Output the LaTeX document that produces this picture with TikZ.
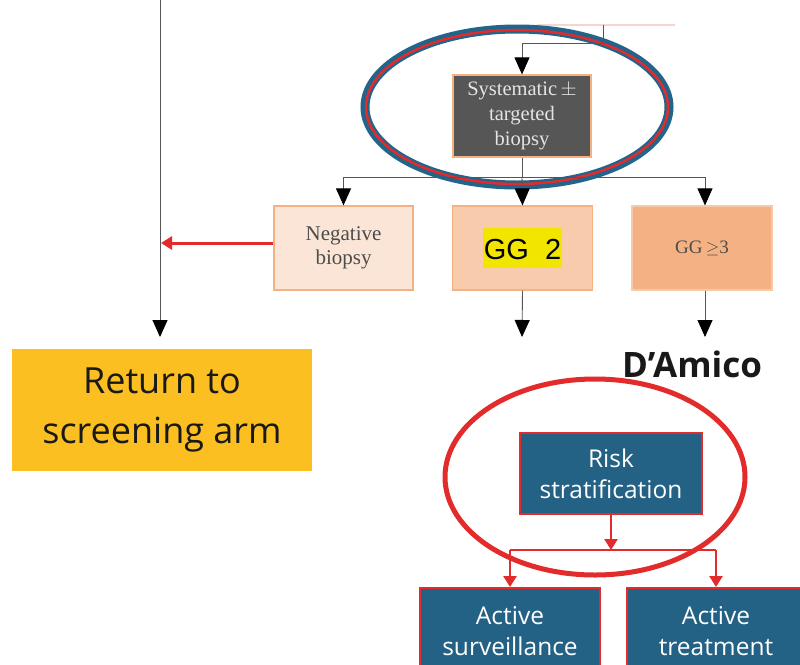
\documentclass[tikz,border=0pt]{standalone}
\usepackage{fontspec}
\setmainfont{Liberation Serif}
\newfontfamily\aptos{Open Sans}
\newfontfamily\arialf{Liberation Sans}
\usetikzlibrary{arrows.meta}
\definecolor{graybox}{HTML}{565656}
\definecolor{peachline}{HTML}{F4B183}
\definecolor{peach1}{HTML}{FBE5D6}
\definecolor{peach2}{HTML}{F8CBAD}
\definecolor{peach3}{HTML}{F4B183}
\definecolor{peach3b}{HTML}{F8C9A8}
\definecolor{ovalblue}{HTML}{22648A}
\definecolor{boxblue}{HTML}{236185}
\definecolor{redc}{HTML}{E32B2B}
\definecolor{gold}{HTML}{FBBF22}
\definecolor{hl}{HTML}{F2E600}
\definecolor{linegray}{HTML}{555555}
\definecolor{pinkline}{HTML}{F6D6CC}
\begin{document}
\begin{tikzpicture}[x=1pt,y=-1pt,
  serifbox/.style={draw=peachline,line width=1.2pt,inner sep=0pt,align=center,
     minimum width=139pt,minimum height=84pt,text=black!70,
     font=\fontsize{21}{24}\selectfont},
  bluebox/.style={draw=redc,line width=2pt,fill=boxblue,text=white,inner sep=0pt,
     align=center,font=\aptos\fontsize{24.5}{31}\selectfont},
  grayarrow/.style={draw=linegray,line width=0.9pt,-{Triangle[length=17pt,width=15pt,color=black]}},
  grayline/.style={draw=linegray,line width=0.9pt},
  redarrow/.style={draw=redc,line width=2.5pt,-{Triangle[length=11pt,width=13pt]}},
]
\useasboundingbox (0,0) rectangle (800,664);
\clip (0,0) rectangle (800,664);
\fill[white] (0,0) rectangle (800,664);

% top faint line and feed
\draw[pinkline,line width=2pt] (537,25) -- (675,25);
\coordinate (feedtop) at (603,25);
\coordinate (feedbend) at (603,43);

% systematic biopsy
\node[serifbox,fill=graybox,text=white!90!black,minimum width=138pt,minimum height=82pt,
      font=\fontsize{20.5}{25}\selectfont] (sys) at (522,116) {Systematic\,$\pm$\\targeted\\biopsy};
\draw[ovalblue,line width=9pt] (517,107) ellipse [x radius=152, y radius=78];
\draw[redc,line width=2.5pt] (517,107) ellipse [x radius=151, y radius=77];

\draw[grayline] (feedtop) -- (feedbend) -- (feedbend -| sys.north);
\draw[grayarrow] (feedbend -| sys.north) -- (sys.north);

% row of result boxes
\node[serifbox,fill=peach1] (neg) at (343.5,248) {Negative\\biopsy};
\node[serifbox,fill=peach2,minimum width=140pt,text=black] (gg2) at (522.5,248)
   {\setlength\fboxsep{1pt}\colorbox{hl}{\arialf\fontsize{29}{30}\selectfont\rule[-8pt]{0pt}{38pt}GG\ \ 2}};
\node[serifbox,fill=peach3,draw=peach3b,minimum width=140pt,font=\fontsize{19}{22}\selectfont] (gg3) at (702,248) {GG\,$\geq$3};

\coordinate (split) at (522,177);
\draw[grayline] (sys.south) -- (split);
\draw[grayline] (neg.north |- split) -- ([xshift=3pt]gg3.north |- split);
\draw[grayarrow] (neg.north |- split) -- (neg.north);
\draw[grayarrow] (split) -- (gg2.north);
\draw[grayarrow] ([xshift=3pt]gg3.north |- split) -- ([xshift=3pt]gg3.north);

% left return line
\node[fill=gold,inner sep=0pt,minimum width=300pt,minimum height=122pt,align=center,
      font=\aptos\fontsize{36}{50}\selectfont,text=black!90] (ret) at (162,410) {Return to\\screening arm};
\coordinate (lefttop) at (160,0);
\coordinate (leftend) at (160,337);
\draw[grayarrow] (lefttop) -- (leftend);
\coordinate (negtarget) at (161,243);
\draw[redarrow,line width=3pt] (neg.west |- negtarget) -- (negtarget);

% down arrows
\coordinate (gg2end) at (522,337);
\coordinate (gg3end) at (705,337);
\draw[grayarrow] (gg2.south) -- (gg2end);
\draw[grayarrow] ([xshift=3pt]gg3.south) -- (gg3end);

% D'Amico
\node[font=\aptos\bfseries\fontsize{35}{38}\selectfont,text=black!90,inner sep=0pt] (dam) at (692,364) {D’Amico};

% risk stratification
\node[bluebox,minimum width=182pt,minimum height=81pt] (risk) at (611,473.5) {Risk\\stratification};
\draw[redc,line width=5pt] (595,477) ellipse [x radius=150, y radius=98];

\node[bluebox,minimum width=180pt,minimum height=86pt] (as) at (510,631) {Active\\surveillance};
\node[bluebox,minimum width=178pt,minimum height=86pt] (at) at (716,631) {Active\\treatment};

\coordinate (rsplit) at (611,550);
\draw[redarrow] (risk.south) -- (rsplit);
\draw[redc,line width=2.5pt] (as.north |- rsplit) -- (at.north |- rsplit);
\draw[redarrow] (as.north |- rsplit) -- (as.north);
\draw[redarrow] (at.north |- rsplit) -- (at.north);
\end{tikzpicture}
\end{document}
